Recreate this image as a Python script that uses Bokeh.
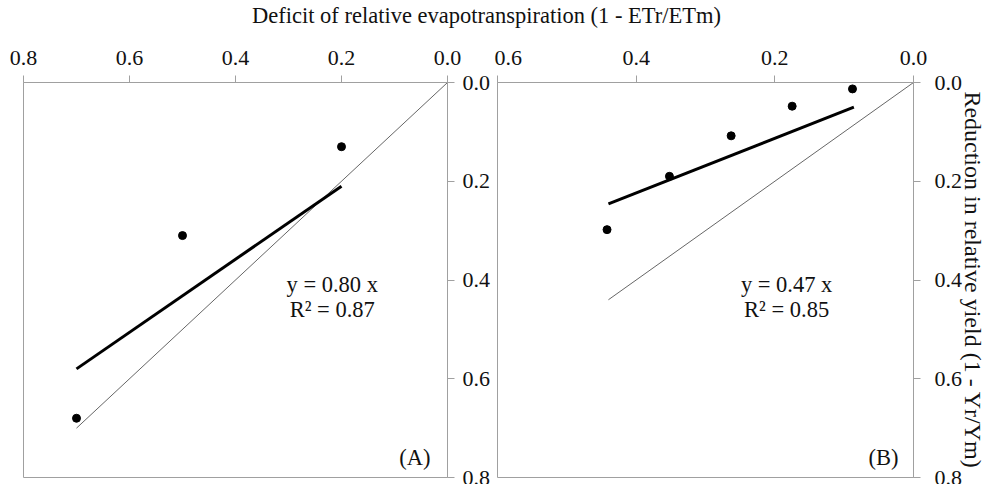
from bokeh.plotting import figure
from bokeh.models import Range1d, Label, FixedTicker, PrintfTickFormatter
from bokeh.layouts import column, row
from bokeh.embed import file_html
from bokeh.resources import INLINE

FONT = "Liberation Serif"
GRAY = "#a0a0a0"
TXT = "#111111"

# ---- data ----
title_text = "Deficit of relative evapotranspiration (1 - ETr/ETm)"
ylabel_text = "Reduction in relative yield (1 - Yr/Ym)"

a_x = [0.20, 0.50, 0.70]
a_y = [0.13, 0.31, 0.68]
a_fit_x = [0.20, 0.70]
a_fit_y = [0.21, 0.58]
a_one = [0.0, 0.70]
a_eq = "y = 0.80 x"
a_r2 = "R² = 0.87"

b_x = [0.088, 0.175, 0.263, 0.352, 0.442]
b_y = [0.013, 0.048, 0.108, 0.190, 0.298]
b_fit_x = [0.086, 0.44]
b_fit_y = [0.050, 0.246]
b_one = [0.0, 0.44]
b_eq = "y = 0.47 x"
b_r2 = "R² = 0.85"

a_xticks = [0.0, 0.2, 0.4, 0.6, 0.8]
b_xticks = [0.0, 0.2, 0.4, 0.6]
y_ticks = [0.0, 0.2, 0.4, 0.6, 0.8]


def style(p, xticks, right_standoff):
    p.xgrid.visible = False
    p.ygrid.visible = False
    p.outline_line_color = GRAY
    p.outline_line_width = 1
    p.xaxis.ticker = FixedTicker(ticks=xticks)
    p.yaxis.ticker = FixedTicker(ticks=y_ticks)
    for ax in (p.xaxis, p.yaxis):
        ax.axis_line_color = GRAY
        ax.major_tick_line_color = GRAY
        ax.minor_tick_line_color = None
        ax.major_tick_out = 7
        ax.major_tick_in = 0
        ax.major_label_text_font = FONT
        ax.major_label_text_font_size = "22px"
        ax.major_label_text_color = TXT
    p.xaxis.major_label_standoff = 11
    p.yaxis.major_label_standoff = right_standoff
    p.xaxis.formatter = PrintfTickFormatter(format="%.1f")
    p.yaxis.formatter = PrintfTickFormatter(format="%.1f")


def txt(p, x, y, t, align="center"):
    p.add_layout(Label(x=x, y=y, text=t, text_align=align, text_baseline="middle",
                       text_font=FONT, text_font_size="22.5px", text_color=TXT))


# ---- title strip ----
tf = figure(width=991, height=30, x_range=Range1d(0, 1), y_range=Range1d(0, 1),
            x_axis_type=None, y_axis_type=None, toolbar_location=None,
            output_backend="svg", min_border=0)
tf.outline_line_color = None
tf.add_layout(Label(x=0.4904, y=0.5, text=title_text, text_align="center",
                    text_baseline="middle", text_font=FONT, text_font_size="22.5px",
                    text_color=TXT))

# ---- panel A ----
p1 = figure(width=494, height=454, x_range=Range1d(0.8, 0.0), y_range=Range1d(0.8, 0.0),
            x_axis_location="above", y_axis_location="right", toolbar_location=None,
            output_backend="svg", min_border_left=23, min_border_right=47,
            min_border_top=52, min_border_bottom=7)
style(p1, a_xticks, 8)
p1.line(a_one, a_one, line_color="#666666", line_width=1)
p1.line(a_fit_x, a_fit_y, line_color="black", line_width=3)
p1.scatter(a_x, a_y, size=8, color="black")
txt(p1, 0.2175, 0.409, a_eq)
txt(p1, 0.2175, 0.46, a_r2)
txt(p1, 0.032, 0.759, "(A)", align="right")

# ---- panel B ----
p2 = figure(width=497, height=454, x_range=Range1d(0.6, 0.0), y_range=Range1d(0.8, 0.0),
            x_axis_location="above", y_axis_location="right", toolbar_location=None,
            output_backend="svg", min_border_left=3, min_border_right=78,
            min_border_top=52, min_border_bottom=7)
style(p2, b_xticks, 14)
p2.yaxis.axis_label = ylabel_text
p2.yaxis.axis_label_text_font = FONT
p2.yaxis.axis_label_text_font_size = "24px"
p2.yaxis.axis_label_text_font_style = "normal"
p2.yaxis.axis_label_text_color = TXT
p2.yaxis.axis_label_standoff = -5
p2.line(b_one, b_one, line_color="#666666", line_width=1)
p2.line(b_fit_x, b_fit_y, line_color="black", line_width=3)
p2.scatter(b_x, b_y, size=8, color="black")
txt(p2, 0.183, 0.409, b_eq)
txt(p2, 0.183, 0.46, b_r2)
txt(p2, 0.0217, 0.759, "(B)", align="right")

layout = column(tf, row(p1, p2, spacing=0), spacing=0)
open("out.html", "w").write(file_html(layout, INLINE))
